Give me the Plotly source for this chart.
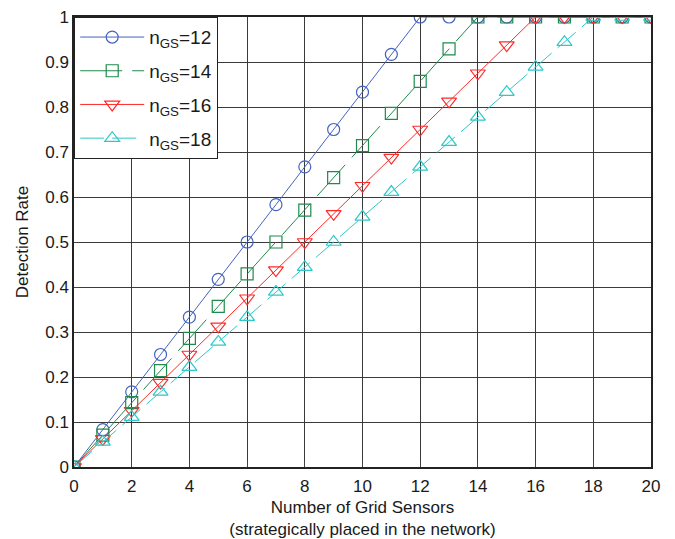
import plotly.graph_objects as go

sensors = list(range(0, 21))
rate_n12 = [0, 0.083, 0.167, 0.25, 0.333, 0.417, 0.5, 0.583, 0.667, 0.75, 0.833, 0.917, 1, 1, 1, 1, 1, 1, 1, 1, 1]
rate_n14 = [0, 0.071, 0.143, 0.214, 0.286, 0.357, 0.429, 0.5, 0.571, 0.643, 0.714, 0.786, 0.857, 0.929, 1, 1, 1, 1, 1, 1, 1]
rate_n16 = [0, 0.0625, 0.125, 0.1875, 0.25, 0.3125, 0.375, 0.4375, 0.5, 0.5625, 0.625, 0.6875, 0.75, 0.8125, 0.875, 0.9375, 1, 1, 1, 1, 1]
rate_n18 = [0, 0.056, 0.111, 0.167, 0.222, 0.278, 0.333, 0.389, 0.444, 0.5, 0.556, 0.611, 0.667, 0.722, 0.778, 0.833, 0.889, 0.944, 1, 1, 1]
names = ["n<sub>GS</sub>=12", "n<sub>GS</sub>=14", "n<sub>GS</sub>=16", "n<sub>GS</sub>=18"]
x_ticks = list(range(0, 21, 2))
y_ticks = [0, 0.1, 0.2, 0.3, 0.4, 0.5, 0.6, 0.7, 0.8, 0.9, 1]
y_labels = ["0", "0.1", "0.2", "0.3", "0.4", "0.5", "0.6", "0.7", "0.8", "0.9", "1"]

styles = [
    dict(color="#4463c0", dash="solid", symbol="circle-open", size=12),
    dict(color="#1f8a4c", dash="42px,10px", symbol="square-open", size=12),
    dict(color="#ff2a2a", dash="solid", symbol="triangle-down-open", size=13),
    dict(color="#2ec8c8", dash="24px,8px", symbol="triangle-up-open", size=13),
]

fig = go.Figure()
for i, (ys, name, st) in enumerate(zip([rate_n12, rate_n14, rate_n16, rate_n18], names, styles)):
    fig.add_trace(go.Scatter(
        x=sensors, y=ys, name=name, mode="lines+markers", legendgroup=f"g{i}",
        line=dict(color=st["color"], width=1, dash=st["dash"]),
        marker=dict(symbol=st["symbol"], size=st["size"], color=st["color"],
                    line=dict(width=1.2, color=st["color"])),
    ))

font_family = "Liberation Sans, Arial, sans-serif"
fig.update_layout(
    width=667, height=531,
    margin=dict(l=66, r=24, t=9, b=72, autoexpand=False),
    paper_bgcolor="white", plot_bgcolor="white",
    font=dict(family=font_family, size=17, color="#1a1a1a"),
    showlegend=True,
    legend=dict(x=0, y=1, xanchor="left", yanchor="top",
                bgcolor="white", bordercolor="#222", borderwidth=1.2,
                font=dict(size=19), tracegroupgap=6, itemwidth=64),
    xaxis=dict(range=[0, 20], tickvals=x_ticks, ticks="inside", ticklen=5,
               showgrid=True, gridcolor="#3a3a3a", gridwidth=1,
               showline=True, linecolor="#222", linewidth=1.5, mirror=True,
               zeroline=False, tickfont=dict(size=17), automargin=False,
               ticklabelstandoff=3, ticklabeloverflow="allow",
               title=dict(text="Number of Grid Sensors<br>(strategically placed in the network)",
                          font=dict(size=17), standoff=8)),
    yaxis=dict(range=[0, 1], tickvals=y_ticks, ticktext=y_labels, ticks="inside", ticklen=5,
               showgrid=True, gridcolor="#3a3a3a", gridwidth=1,
               showline=True, linecolor="#222", linewidth=1.5, mirror=True,
               zeroline=False, tickfont=dict(size=17), automargin=False,
               ticklabeloverflow="allow",
               title=dict(text="Detection Rate", font=dict(size=17), standoff=12)),
)
fig.write_html("out.html")
